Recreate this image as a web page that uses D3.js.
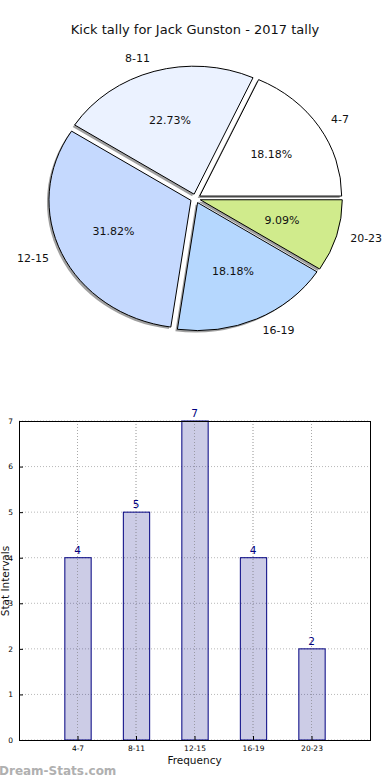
<!DOCTYPE html>
<html><head><meta charset="utf-8">
<script src="https://cdn.jsdelivr.net/npm/d3@7"></script>
<style>body{margin:0;background:#fff}svg{display:block;font-family:"DejaVu Sans",sans-serif}</style>
</head><body>
<svg id="c" width="390" height="780"></svg>
<script>
const categories = ["4-7","8-11","12-15","16-19","20-23"];
const values = [4,5,7,4,2];
const pieColors = ["#ffffff","#ebf2ff","#c5d9fe","#b5d7fe","#d0eb8c"];
const yTicks = [0,1,2,3,4,5,6,7];
const title = "Kick tally for Jack Gunston - 2017 tally";

const svg = d3.select("#c");

// ---------- PIE ----------
const cx = 195.5, cy = 198.5, rx = 142, ry = 128, explode = 0.035;
const total = d3.sum(values);
const pie = d3.pie().sort(null).value(d=>d)
  .startAngle(Math.PI/2).endAngle(Math.PI/2 - 2*Math.PI);
const arcs = pie(values);
const arc = d3.arc().innerRadius(0).outerRadius(1);

svg.append("text").attr("x",195).attr("y",30).attr("text-anchor","middle")
  .attr("dominant-baseline","middle").attr("font-size",13).attr("fill","#111").text(title);

const pg = svg.append("g");
function mid(a){ const m=(a.startAngle+a.endAngle)/2; return Math.PI/2 - m; }

arcs.forEach((a,i)=>{
  const m = mid(a);
  const ox = cx + explode*rx*Math.cos(m) - 2, oy = cy - explode*ry*Math.sin(m) + 2;
  pg.append("g").attr("transform",`translate(${ox},${oy}) scale(${rx},${ry})`)
    .append("path").attr("d",arc(a)).attr("fill","#808080").attr("opacity",0.75);
});
arcs.forEach((a,i)=>{
  const m = mid(a);
  const ox = cx + explode*rx*Math.cos(m), oy = cy - explode*ry*Math.sin(m);
  pg.append("g").attr("transform",`translate(${ox},${oy}) scale(${rx},${ry})`)
    .append("path").attr("d",arc(a)).attr("fill",pieColors[i]).attr("stroke","#000")
    .attr("stroke-width",1).attr("vector-effect","non-scaling-stroke");
});
arcs.forEach((a,i)=>{
  const m = mid(a);
  const lx = cx + (1.1+explode)*rx*Math.cos(m), ly = cy - (1.1+explode)*ry*Math.sin(m);
  pg.append("text").attr("x",lx).attr("y",ly)
    .attr("text-anchor", Math.cos(m)>0 ? "start":"end")
    .attr("dominant-baseline","middle").attr("font-size",11).attr("fill","#111")
    .text(categories[i]);
  const px = cx + (0.6+explode)*rx*Math.cos(m), py = cy - (0.6+explode)*ry*Math.sin(m);
  pg.append("text").attr("x",px).attr("y",py).attr("text-anchor","middle")
    .attr("dominant-baseline","middle").attr("font-size",11).attr("fill","#111")
    .text((values[i]/total*100).toFixed(2)+"%");
});

// ---------- BAR ----------
const L=19, R=370, T=421, B=740;
const x = d3.scaleLinear().domain([-1,5]).range([L,R]);
const y = d3.scaleLinear().domain([0,7]).range([B,T]);
const bw = 0.45;
const bg = svg.append("g");

bg.append("g").selectAll("line").data(yTicks).join("line")
  .attr("x1",L).attr("x2",R).attr("y1",d=>y(d)).attr("y2",d=>y(d))
  .attr("stroke","#b8b8b8").attr("stroke-dasharray","1,2").attr("stroke-width",1);
bg.append("g").selectAll("line").data(categories).join("line")
  .attr("x1",(d,i)=>x(i)).attr("x2",(d,i)=>x(i)).attr("y1",T).attr("y2",B)
  .attr("stroke","#b8b8b8").attr("stroke-dasharray","1,2").attr("stroke-width",1);

bg.append("g").selectAll("rect").data(values).join("rect")
  .attr("x",(d,i)=>x(i-bw/2)+0.5).attr("width",x(bw)-x(0))
  .attr("y",d=>y(d)).attr("height",d=>B-y(d))
  .attr("fill","rgba(0,0,128,0.2)").attr("stroke","#000080").attr("stroke-width",1);
bg.append("g").selectAll("line").data(categories).join("line")
  .attr("x1",(d,i)=>x(i)).attr("x2",(d,i)=>x(i)).attr("y1",T).attr("y2",B)
  .attr("stroke","#a0a0a0").attr("stroke-dasharray","1,2").attr("stroke-width",1).attr("opacity",0.6);

bg.append("g").selectAll("text").data(values).join("text")
  .attr("x",(d,i)=>x(i)).attr("y",d=>y(d)-4).attr("text-anchor","middle")
  .attr("font-size",10.5).attr("fill","#000080").text(d=>d);

const yAxis = d3.axisLeft(y).tickValues(yTicks).tickSize(-4).tickPadding(6).tickFormat(d3.format("d"));
const ya = bg.append("g").attr("transform",`translate(${L},0)`).call(yAxis);
ya.select(".domain").remove();
ya.selectAll("text").attr("font-size",7.5).attr("fill","#000").attr("font-family","DejaVu Sans");
ya.selectAll("line").attr("stroke","#000");

const xAxis = d3.axisBottom(x).tickValues(d3.range(categories.length)).tickSize(-4).tickPadding(6)
  .tickFormat(i=>categories[i]);
const xa = bg.append("g").attr("transform",`translate(0,${B})`).call(xAxis);
xa.select(".domain").remove();
xa.selectAll("text").attr("font-size",7.5).attr("fill","#000").attr("font-family","DejaVu Sans");
xa.selectAll("line").attr("stroke","#000");

bg.append("rect").attr("x",L+0.5).attr("y",T+0.5).attr("width",R-L).attr("height",B-T)
  .attr("fill","none").attr("stroke","#000").attr("stroke-width",1);

bg.append("text").attr("x",(L+R)/2).attr("y",761).attr("text-anchor","middle")
  .attr("dominant-baseline","middle").attr("font-size",10.5).attr("fill","#111").text("Frequency");
bg.append("text").attr("transform","translate(6,581) rotate(-90)").attr("text-anchor","middle")
  .attr("dominant-baseline","middle").attr("font-size",10.5).attr("fill","#111").text("Stat Intervals");

svg.append("text").attr("x",-1).attr("y",771).attr("dominant-baseline","middle")
  .attr("font-size",12).attr("font-weight","bold").attr("fill","#b0b0b0").text("Dream-Stats.com");
</script>
</body></html>
